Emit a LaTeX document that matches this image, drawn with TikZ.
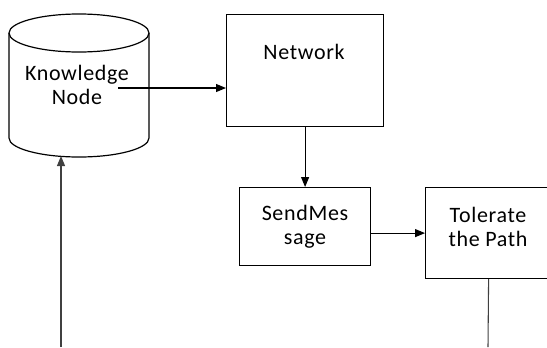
\documentclass[tikz,border=0pt]{standalone}
\usepackage{fontspec}
\setmainfont[LetterSpace=3]{Carlito}
\usetikzlibrary{arrows.meta}
\begin{document}
\begin{tikzpicture}[x=0.75pt,y=-0.75pt,
  box/.style={draw, line width=0.9pt, inner sep=0pt, anchor=north west},
  lbl/.style={font=\fontsize{16.5}{18}\selectfont, align=center, inner sep=0pt},
  conn/.style={line width=0.8pt, -{Triangle[length=7.5pt,width=6pt]}},
  plain/.style={line width=0.8pt, black!75}]
\clip (0,0) rectangle (547,347);
% cylinder
\draw[line width=0.9pt] (9,33) -- (9,138) arc[start angle=180,end angle=360,x radius=52.5pt,y radius=14.25pt] -- (149,33);
\draw[line width=0.9pt] (79,33) ellipse [x radius=52.5pt, y radius=14.25pt];
\node[lbl] (kn) at (77,85) {Knowledge\\Node};
\coordinate (ka) at (118,88);
\coordinate (kbot) at (61,156);
\coordinate (lstart) at (61,347);
% boxes
\node[box, minimum width=117.75pt, minimum height=84pt] (net) at (226,14) {};
\node[lbl] (netl) at (304,52) {Network};
\node[box, minimum width=98.25pt, minimum height=58.5pt] (sm) at (239,187) {};
\node[lbl] (sml) at (305,227) {SendMes\\sage};
\node[box, minimum width=94.5pt, minimum height=68.25pt] (tol) at (425,187) {};
\node[lbl] (toll) at (488,227) {Tolerate\\the Path};
\coordinate (tend) at (488,347);
% connectors
\draw[conn] (ka) -- (net.west |- ka);
\draw[conn] (net.south) -- (sm.north);
\draw[conn] (sm.east |- tol.west) -- (tol.west);
\draw[plain] (tol.south) -- (tend);
\draw[conn, draw=black!75] (lstart) -- (kbot);
\end{tikzpicture}
\end{document}
